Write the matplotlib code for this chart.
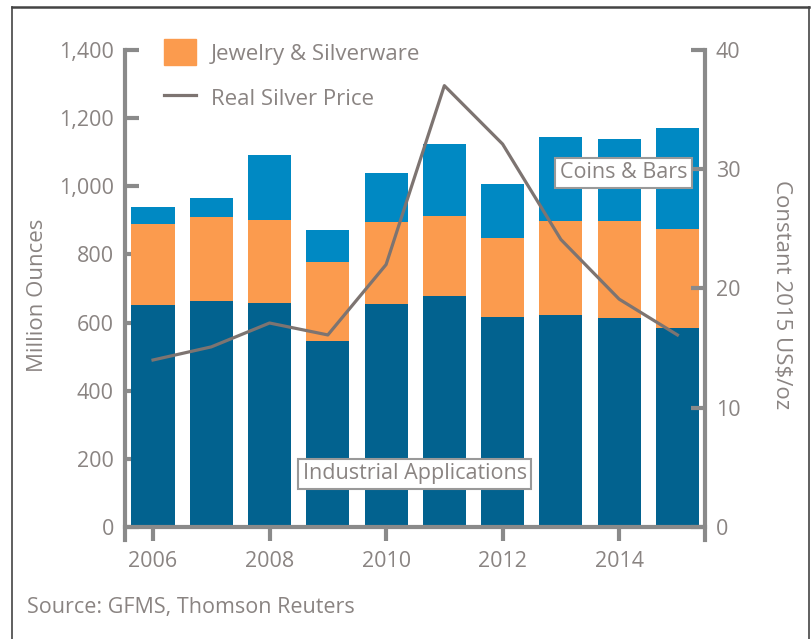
import matplotlib
matplotlib.use('Agg')
import matplotlib.pyplot as plt
from matplotlib.patches import Patch
from matplotlib.lines import Line2D

plt.rcParams['font.family'] = ['Open Sans', 'DejaVu Sans']

years = [2006, 2007, 2008, 2009, 2010, 2011, 2012, 2013, 2014, 2015]
industrial = [650, 663, 658, 546, 654, 678, 617, 621, 612, 583]
jewelry = [239, 247, 243, 232, 241, 235, 230, 278, 287, 292]
coins = [50, 56, 191, 94, 144, 210, 160, 245, 239, 296]
price = [14.0, 15.1, 17.1, 16.1, 22.0, 37.0, 32.1, 24.1, 19.1, 16.1]

c_ind = '#02628f'
c_jew = '#fb9b4e'
c_coin = '#0089c3'
c_line = '#7d7471'
c_axis = '#8a8a8a'
c_text = '#8a8482'

fig = plt.figure(figsize=(8.12, 6.39), dpi=100)
ax = fig.add_axes([0.154, 0.155, 0.714, 0.767])
ax2 = ax.twinx()

bottom2 = [a + b for a, b in zip(industrial, jewelry)]
ax.bar(years, industrial, width=0.74, color=c_ind, zorder=2)
ax.bar(years, jewelry, width=0.74, bottom=industrial, color=c_jew, zorder=2)
ax.bar(years, coins, width=0.74, bottom=bottom2, color=c_coin, zorder=2)

ax2.plot(years, price, color=c_line, lw=2.3, zorder=3)

ylo = -38
ax.set_xlim(2005.52, 2015.47)
ax.set_ylim(ylo, 1400)
ax2.set_ylim(ylo * 40 / 1400, 40)

for a in (ax, ax2):
    for s in a.spines.values():
        s.set_color(c_axis)
        s.set_linewidth(3)
    a.spines['top'].set_visible(False)
ax2.spines['bottom'].set_visible(False)
ax2.spines['left'].set_visible(False)
ax.spines['right'].set_visible(False)
ax.spines['bottom'].set_position(('data', 0))
ax.spines['bottom'].set_bounds(2005.52, 2015.47)

ax.set_yticks(range(0, 1401, 200))
ax.set_yticklabels(['0', '200', '400', '600', '800', '1,000', '1,200', '1,400'])
ax.set_xticks([2006, 2008, 2010, 2012, 2014])
ax2.set_yticks([0, 10, 20, 30, 40])

fs = 15.5
ax.tick_params(axis='y', direction='in', length=10, width=3, color=c_axis,
               labelcolor=c_text, labelsize=fs, pad=8)
ax.tick_params(axis='x', direction='out', length=10, width=3, color=c_axis,
               labelcolor=c_text, labelsize=fs, pad=7)
ax2.tick_params(axis='y', direction='in', length=10, width=3, color=c_axis,
                labelcolor=c_text, labelsize=fs, pad=8)

ax.set_ylabel('Million Ounces', color=c_text, fontsize=16, labelpad=8)
ax2.set_ylabel('Constant 2015 US$/oz', color=c_text, fontsize=16,
               rotation=-90, labelpad=37)

box = dict(boxstyle='square,pad=0.22', fc='white', ec='#999999', lw=1.5)
ax2.text(2014.08, 1039 * 40 / 1400, 'Coins & Bars', ha='center', va='center',
         fontsize=15.5, color=c_text, bbox=box, zorder=5)
ax2.text(2010.49, 156 * 40 / 1400, 'Industrial Applications', ha='center',
         va='center', fontsize=15.5, color=c_text, bbox=box, zorder=5)

handles = [Patch(color=c_jew), Line2D([0], [0], color=c_line, lw=2.3)]
leg = ax2.legend(handles, ['Jewelry & Silverware', 'Real Silver Price'],
                 loc='upper left', bbox_to_anchor=(0.032, 1.063), frameon=False,
                 fontsize=16, handlelength=1.45, handleheight=1.45,
                 labelspacing=0.87, handletextpad=0.68, borderpad=0.4)
for t in leg.get_texts():
    t.set_color(c_text)

fig.text(0.033, 0.05, 'Source: GFMS, Thomson Reuters', color=c_text, fontsize=15.5,
         va='center')

# frame around the chart
fig.add_artist(Line2D([0.015, 0.015], [0, 0.989], color='#444444', lw=1.2,
                      transform=fig.transFigure))
fig.add_artist(Line2D([0.015, 0.996], [0.989, 0.989], color='#444444', lw=1.8,
                      transform=fig.transFigure))
fig.add_artist(Line2D([0.996, 0.996], [0, 0.989], color='#444444', lw=1.2,
                      transform=fig.transFigure))

fig.savefig('out.png', dpi=100)
